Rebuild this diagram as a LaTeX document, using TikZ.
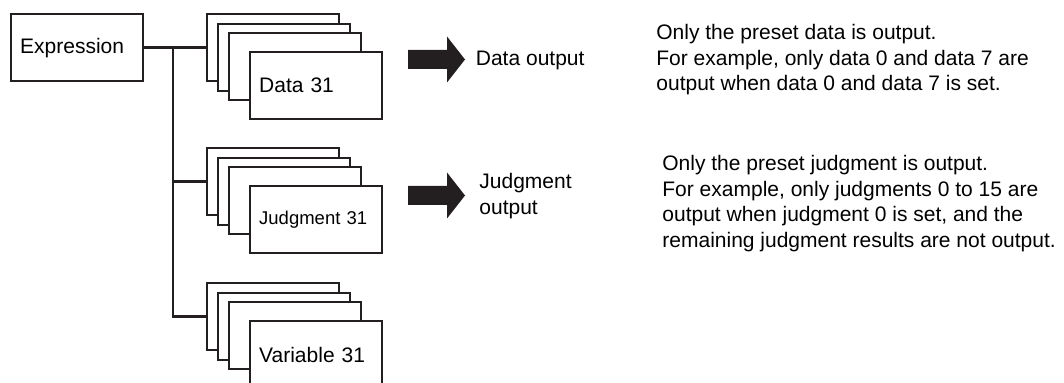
\documentclass[tikz,border=0pt]{standalone}
\usepackage{fontspec}
\setmainfont{Liberation Sans}
\usetikzlibrary{arrows.meta,positioning,calc}
\definecolor{Ink}{HTML}{231F20}

\begin{document}
\begin{tikzpicture}[
  x=0.5pt, y=-0.5pt,
  sheet/.style={draw=Ink, line width=1.2pt, fill=white, anchor=north west,
    minimum width=66pt, minimum height=33.5pt, inner xsep=4.5pt,
    text width=57pt, align=left, font=\fontsize{10.5}{12.75}\selectfont},
  link/.style={draw=Ink, line width=1.4pt},
  blockarrow/.style={fill=Ink},
  label/.style={inner sep=0pt, align=left, font=\fontsize{10.5}{12.75}\selectfont}
]
\useasboundingbox (0,0) rectangle (1064,383);

\node[sheet] (expr) at (10,13) {Expression};

% stacked sheets: three behind, the numbered one in front
\foreach \dx/\dy [count=\i] in {0/0, 11/10, 22/19} {
  \node[sheet] (data\i) at (206+\dx,13+\dy) {};
  \node[sheet] (judg\i) at (206+\dx,147+\dy) {};
  \node[sheet] (var\i) at (206+\dx,282+\dy) {};
}
\node[sheet] (data) at (249,51) {Data 31};
\node[sheet, font=\fontsize{9.25}{11}\selectfont] (judg) at (249,185) {Judgment 31};
\node[sheet] (var) at (249,320) {Variable 31};

\coordinate (split) at (173,46.5);
\draw[link] (expr.east) -- (data1.west);
\draw[link] (split) |- (judg1.west);
\draw[link] (split) |- (var1.west);

% fat output arrows
\coordinate (dataTail) at (408,59.5);
\coordinate (judgTail) at (408,195.5);
\foreach \t in {dataTail, judgTail}
  \fill[blockarrow] (\t) ++(0,-9.5) -- ++(39,0) -- ++(0,-13.5) -- ++(18,23)
    -- ++(-18,23) -- ++(0,-13.5) -- ++(-39,0) -- cycle;

\node[label, anchor=west] (dataOut) at (475.5,60) {Data output};
\node[label, anchor=north west] (judgOut) at (479,173) {Judgment\\output};

\node[label, anchor=north west] (dataNote) at (656,24)
  {Only the preset data is output.\\For example, only data 0 and data 7 are\\output when data 0 and data 7 is set.};
\node[label, anchor=north west] (judgNote) at (662,155)
  {Only the preset judgment is output.\\For example, only judgments 0 to 15 are\\output when judgment 0 is set, and the\\remaining judgment results are not output.};
\end{tikzpicture}
\end{document}
